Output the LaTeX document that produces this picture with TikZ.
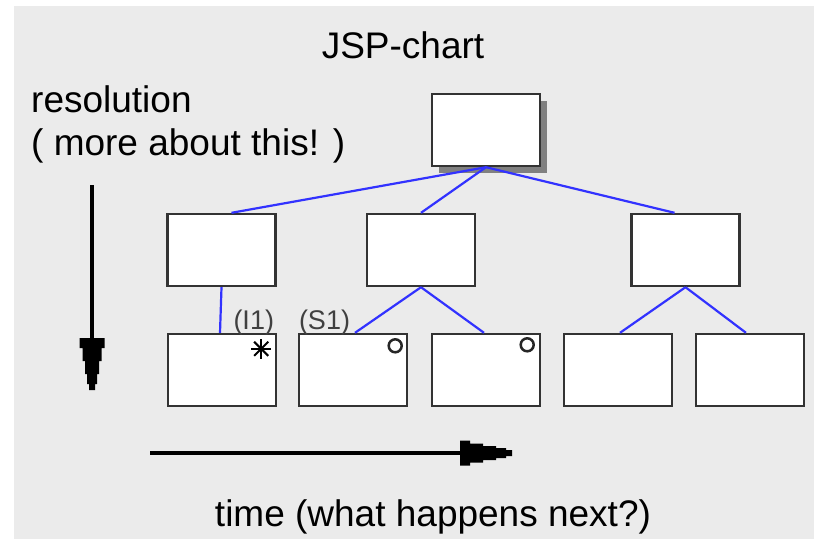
\documentclass[tikz,border=0pt]{standalone}
\usepackage{fontspec}
\setmainfont{Liberation Sans}
\usetikzlibrary{shadows}
\definecolor{bggray}{RGB}{235,235,235}
\definecolor{linkblue}{RGB}{50,50,255}
\tikzset{
  box/.style={draw=black!80,line width=2.4pt,fill=white,minimum width=108pt,minimum height=72pt,inner sep=0pt},
  link/.style={linkblue,line width=2.2pt},
  selmark/.style={circle,draw=black!85,line width=2.5pt,minimum size=13pt,inner sep=0pt},
  lbl/.style={font=\fontsize{27}{32}\selectfont,inner sep=0pt,text=black!75},
  stephead/.pic={\fill (0,-12.5) -- (10,-12.5) -- (10,-9.5) -- (23,-9.5) -- (23,-7) -- (36,-7) -- (36,-5) -- (46,-5) -- (46,-3) -- (52,-3)
     -- (52,3) -- (46,3) -- (46,5) -- (36,5) -- (36,7) -- (23,7) -- (23,9.5) -- (10,9.5) -- (10,12.5) -- (0,12.5) -- cycle;}
}
\begin{document}
\begin{tikzpicture}[x=1pt,y=-1pt,every node/.style={font=\fontsize{37}{44}\selectfont}]
\useasboundingbox (0,0) rectangle (814,539);
\fill[bggray] (14,6) rectangle (814,539);
% texts
\node[anchor=base] (title) at (403,58) {JSP-chart};
\node[anchor=base west,inner sep=0pt] (res) at (31,112) {resolution};
\node[anchor=base west,inner sep=0pt] (more) at (31,155) {( more about this! )};
\node[anchor=base,inner sep=0pt] (time) at (433,526) {time (what happens next?)};
% boxes
\node[box,drop shadow={shadow xshift=7pt,shadow yshift=-7pt,fill=black!50,opacity=1}] (top) at (486,130) {};
\node[box] (m1) at (221.5,250) {}; \node[box] (m2) at (421,250) {}; \node[box] (m3) at (685.5,250) {};
\node[box] (b1) at (222,370) {}; \node[box] (b2) at (353,370) {}; \node[box] (b3) at (486,370) {};
\node[box] (b4) at (618,370) {}; \node[box] (b5) at (750,370) {};
% links
\draw[link] (top.south) -- ([xshift=10pt]m1.north); \draw[link] (top.south) -- (m2.north); \draw[link] (top.south) -- ([xshift=-11pt]m3.north);
\draw[link] (m1.south) -- ([xshift=-2pt]b1.north);
\draw[link] (m2.south) -- ([xshift=2pt]b2.north); \draw[link] (m2.south) -- ([xshift=-2pt]b3.north);
\draw[link] (m3.south) -- ([xshift=2pt]b4.north); \draw[link] (m3.south) -- ([xshift=-4pt]b5.north);
% iteration / selection marks
\node[lbl,anchor=south east] (it) at ([xshift=-3pt,yshift=-2pt]b1.north east) {(I1)};
\node[lbl,anchor=south west] (sel) at ([xshift=1pt,yshift=-2pt]b2.north west) {(S1)};
\coordinate (star) at ([xshift=-16pt,yshift=-16pt]b1.north east);
\foreach \a in {0,45,90,135} \draw[line width=2pt] (star) ++(\a:10) -- ++(\a+180:20);
\node[selmark] (o2) at ([xshift=-13pt,yshift=-13pt]b2.north east) {};
\node[selmark] (o3) at ([xshift=-14pt,yshift=-12pt]b3.north east) {};
% arrows
\coordinate (resTop) at (92,185); \coordinate (resHead) at (92,338);
\draw[line width=4pt] (resTop) -- ([yshift=-2pt]resHead); \pic[rotate=-90] at (resHead) {stephead};
\coordinate (timeStart) at (150,453); \coordinate (timeHead) at (460,453);
\draw[line width=4pt] (timeStart) -- ([xshift=2pt]timeHead); \pic at (timeHead) {stephead};
\end{tikzpicture}
\end{document}
